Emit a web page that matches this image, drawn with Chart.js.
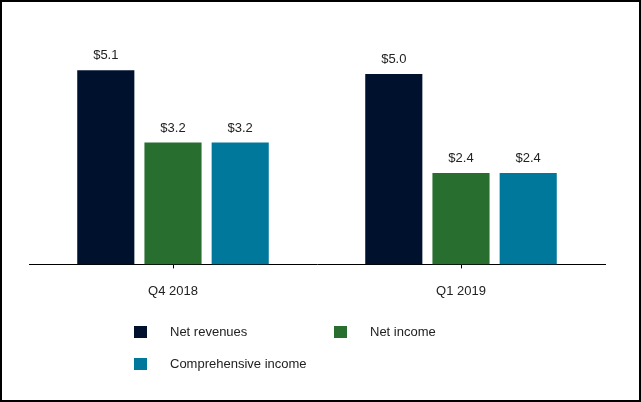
<!DOCTYPE html>
<html>
<head>
<meta charset="utf-8">
<script src="https://cdn.jsdelivr.net/npm/chart.js@4"></script>
<style>
  html, body { margin: 0; padding: 0; background: #fff; }
  #frame {
    position: relative;
    width: 641px; height: 402px;
    box-sizing: border-box;
    border: 2px solid #000;
    background: #fff;
    font-family: "Liberation Sans", Arial, sans-serif;
  }
  #chartBox { position: absolute; left: 0; top: 0; width: 637px; height: 398px; }
  .legend-item {
    position: absolute;
    display: flex; align-items: center;
    font-size: 13px; color: #222;
  }
  .legend-item .sw { width: 13px; height: 12px; margin-right: 23px; }
</style>
</head>
<body>
<div id="frame">
  <div id="chartBox"><canvas id="chart"></canvas></div>
  <div id="legend"></div>
</div>
<script>
const categories = ["Q4 2018", "Q1 2019"];
const seriesNames = ["Net revenues", "Net income", "Comprehensive income"];
const netRevenues = [5.1, 5.0];
const netIncome = [3.2, 2.4];
const comprehensiveIncome = [3.2, 2.4];
const seriesColors = ["#00112d", "#286e2f", "#00789b"];

// draws "$x.x" above each bar
const valueLabels = {
  id: "valueLabels",
  afterDatasetsDraw(chart) {
    const ctx = chart.ctx;
    ctx.save();
    ctx.font = "13px 'Liberation Sans', Arial, sans-serif";
    ctx.fillStyle = "#222";
    ctx.textAlign = "center";
    ctx.textBaseline = "bottom";
    chart.data.datasets.forEach((ds, i) => {
      chart.getDatasetMeta(i).data.forEach((bar, j) => {
        ctx.fillText("$" + ds.data[j].toFixed(1), bar.x, bar.y - 8);
      });
    });
    ctx.restore();
  }
};

const ctx = document.getElementById("chart").getContext("2d");
const chart = new Chart(ctx, {
  type: "bar",
  data: {
    labels: categories,
    datasets: [
      { label: seriesNames[0], data: netRevenues, backgroundColor: seriesColors[0] },
      { label: seriesNames[1], data: netIncome, backgroundColor: seriesColors[1] },
      { label: seriesNames[2], data: comprehensiveIncome, backgroundColor: seriesColors[2] }
    ]
  },
  options: {
    responsive: true,
    maintainAspectRatio: false,
    animation: false,
    layout: { padding: { left: 27, right: 34, top: 34, bottom: 86 } },
    datasets: { bar: { barPercentage: 0.85, categoryPercentage: 0.70 } },
    plugins: {
      legend: { display: false },
      tooltip: { enabled: false }
    },
    scales: {
      x: {
        grid: {
          display: true, drawOnChartArea: false, drawTicks: true,
          tickLength: 4, offset: false, color: "#000"
        },
        border: { display: true, color: "#000", width: 1 },
        ticks: {
          padding: 15, color: "#222",
          font: { family: "'Liberation Sans', Arial, sans-serif", size: 13 }
        }
      },
      y: { display: false, min: 0, max: 6 }
    }
  },
  plugins: [valueLabels]
});

// html legend, two columns like the original
const legendPos = [[132, 322], [332, 322], [132, 354]];
const legend = document.getElementById("legend");
chart.data.datasets.forEach((ds, i) => {
  const item = document.createElement("div");
  item.className = "legend-item";
  item.style.left = legendPos[i][0] + "px";
  item.style.top = legendPos[i][1] + "px";
  item.innerHTML = `<span class="sw" style="background:${ds.backgroundColor}"></span><span>${ds.label}</span>`;
  legend.appendChild(item);
});
</script>
</body>
</html>
